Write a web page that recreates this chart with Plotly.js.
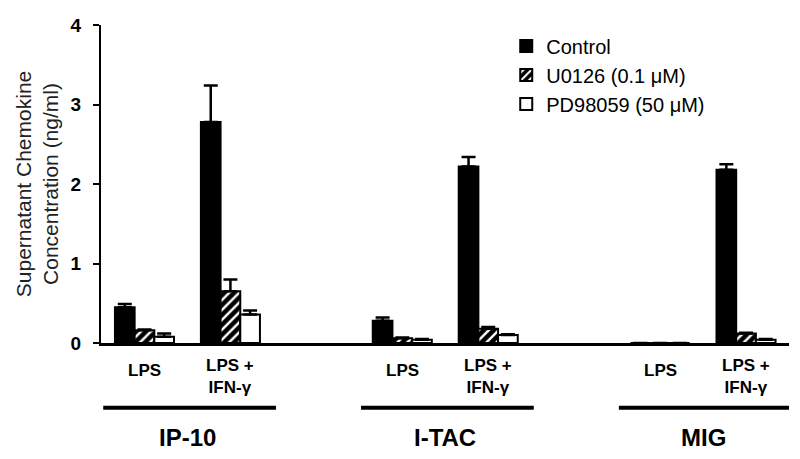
<!DOCTYPE html>
<html>
<head>
<meta charset="utf-8">
<script src="https://cdn.plot.ly/plotly-3.0.1.min.js"></script>
<style>
  html, body { margin: 0; padding: 0; background: #fff; }
  #chart { width: 800px; height: 459px; }
</style>
</head>
<body>
<div id="chart"></div>
<script>
// bar slots along the x axis (gap of one slot between chemokines)
var xPos = [0, 1, 3, 4, 6, 7];
var treatLabels = ["LPS", "LPS +<br>IFN-\u03b3", "LPS", "LPS +<br>IFN-\u03b3", "LPS", "LPS +<br>IFN-\u03b3"];
var chemokines = ["IP-10", "I-TAC", "MIG"];
var chemoStart = [0, 3, 6];

var controlVals = [0.45, 2.78, 0.28, 2.22, 0, 2.18];
var controlErr  = [0.04, 0.46, 0.04, 0.12, 0, 0.07];
var u0126Vals   = [0.16, 0.65, 0.06, 0.18, 0, 0.12];
var u0126Err    = [0.01, 0.15, 0.01, 0.02, 0, 0.01];
var pdVals      = [0.08, 0.36, 0.04, 0.10, 0, 0.04];
var pdErr       = [0.04, 0.05, 0.01, 0.01, 0, 0.01];

var zeros = xPos.map(function () { return 0; });
var font = "Liberation Sans, Arial, sans-serif";

function errs(arr) {
  return { type: 'data', array: arr, arrayminus: zeros, color: 'black', thickness: 2.5, width: 7 };
}

var control = {
  type: 'bar', name: 'Control', x: xPos, y: controlVals,
  marker: { color: 'black', line: { color: 'black', width: 2 } },
  error_y: errs(controlErr)
};
var u0126 = {
  type: 'bar', name: 'U0126 (0.1 \u03bcM)', x: xPos, y: u0126Vals,
  marker: {
    color: 'black', line: { color: 'black', width: 2 },
    pattern: { shape: '/', fgcolor: 'white', bgcolor: 'black', size: 7, solidity: 0.35 }
  },
  error_y: errs(u0126Err)
};
var pd = {
  type: 'bar', name: 'PD98059 (50 \u03bcM)', x: xPos, y: pdVals,
  marker: { color: 'white', line: { color: 'black', width: 2 } },
  error_y: errs(pdErr)
};

var annotations = [];
var shapes = [];
for (var i = 0; i < xPos.length; i++) {
  var twoLine = treatLabels[i].indexOf('<br>') >= 0;
  annotations.push({ x: xPos[i], y: twoLine ? -0.105 : -0.088, xref: 'x', yref: 'paper',
    text: treatLabels[i], showarrow: false, yanchor: 'middle',
    font: { family: font, size: 17, color: 'black', weight: 'bold' } });
}
for (var j = 0; j < chemokines.length; j++) {
  shapes.push({ type: 'line', xref: 'x', yref: 'paper', x0: chemoStart[j] - 0.48, x1: chemoStart[j] + 1.53,
    y0: -0.204, y1: -0.204, line: { color: 'black', width: 4 } });
  annotations.push({ x: chemoStart[j] + 0.5, y: -0.296, xref: 'x', yref: 'paper', text: chemokines[j],
    showarrow: false, yanchor: 'middle', font: { family: font, size: 24, color: 'black', weight: 'bold' } });
}

var layout = {
  width: 800, height: 459,
  margin: { l: 101, r: 11, t: 25, b: 116 },
  paper_bgcolor: 'white', plot_bgcolor: 'white',
  font: { family: font, color: 'black' },
  barmode: 'group', bargap: 0.313, bargroupgap: 0,
  showlegend: true,
  legend: {
    x: 0.589, y: 0.995, xanchor: 'left', yanchor: 'top',
    bgcolor: 'rgba(0,0,0,0)', font: { family: font, size: 20, color: 'black' }
  },
  xaxis: {
    range: [-0.506, 7.50], showgrid: false, zeroline: false,
    showline: true, linecolor: 'black', linewidth: 3,
    showticklabels: false, ticks: ''
  },
  yaxis: {
    range: [0, 4], dtick: 1, showgrid: false, zeroline: false,
    showline: true, linecolor: 'black', linewidth: 2,
    ticks: 'outside', ticklen: 6, tickwidth: 2, tickcolor: 'black',
    ticklabelstandoff: 8,
    tickfont: { family: font, size: 19, color: 'black', weight: 'bold' },
    title: {
      text: 'Supernatant Chemokine<br>Concentration (ng/ml)',
      font: { family: font, size: 21, color: '#222' },
      standoff: 6
    }
  },
  shapes: shapes,
  annotations: annotations
};

Plotly.newPlot('chart', [control, u0126, pd], layout, { displayModeBar: false, staticPlot: true });
</script>
</body>
</html>
